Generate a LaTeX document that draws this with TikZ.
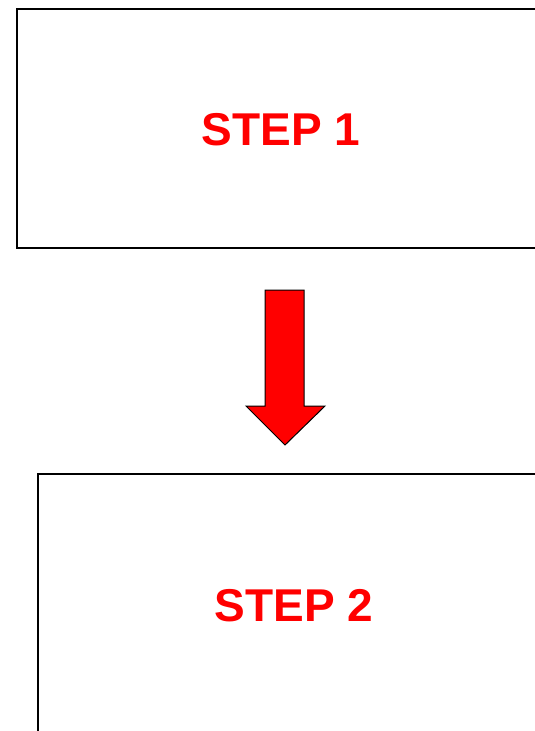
\documentclass[tikz,border=0pt]{standalone}
\usepackage{fontspec}
\setmainfont{Liberation Sans}
\begin{document}
\begin{tikzpicture}[x=1pt,y=-1pt,
  stepbox/.style={draw=black,line width=2.3pt,fill=white},
  steplabel/.style={text=red,font=\bfseries\fontsize{46}{46}\selectfont,inner sep=0pt},
  downarrow/.style={draw=black,line width=1pt,fill=red,line join=miter}]
  \useasboundingbox (0,0) rectangle (535,731);
  \clip (0,0) rectangle (535,731);
  % first step box (runs past the right edge)
  \draw[stepbox] (17,9) rectangle (545,248);
  \node[steplabel] (s1) at (281,130) {STEP 1};
  % second step box (runs past the right and bottom edges)
  \draw[stepbox] (38,474) rectangle (550,740);
  \node[steplabel] (s2) at (294,606) {STEP 2};
  % block arrow between the steps
  \draw[downarrow] (265,290) -- (304,290) -- (304,406) -- (325,406)
    -- (285,445) -- (246,406) -- (265,406) -- cycle;
\end{tikzpicture}
\end{document}
